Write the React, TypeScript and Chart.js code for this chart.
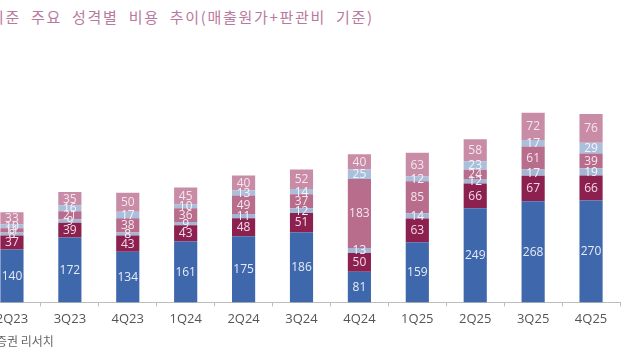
import React, { useEffect, useRef } from "react";
import { Chart, registerables } from "chart.js";

Chart.register(...registerables);

const categories = ["2Q23", "3Q23", "4Q23", "1Q24", "2Q24", "3Q24", "4Q24", "1Q25", "2Q25", "3Q25", "4Q25"];
const seriesBlue = [140, 172, 134, 161, 175, 186, 81, 159, 249, 268, 270];
const seriesMaroon = [37, 39, 43, 43, 48, 51, 50, 63, 66, 67, 66];
const seriesLightA = [8, 9, 8, 9, 11, 12, 13, 14, 12, 17, 19];
const seriesMauve = [11, 21, 38, 36, 49, 37, 183, 85, 24, 61, 39];
const seriesLightB = [10, 16, 17, 10, 13, 14, 25, 12, 23, 17, 29];
const seriesPink = [33, 35, 50, 45, 40, 52, 40, 63, 58, 72, 76];

const seriesColors = ["#3f67ab", "#8c2150", "#a3b6d3", "#b76d8b", "#aabfdc", "#c98ca6"];
const labelColors = ["#e6ecf7", "#f3dbe5", "#f2f5fb", "#f6e6ee", "#f2f5fb", "#f6e6ee"];

const labelPlugin = {
  id: "segLabels",
  afterDatasetsDraw(chart: any) {
    const ctx = chart.ctx;
    ctx.save();
    ctx.font = "12px 'Open Sans', sans-serif";
    ctx.textAlign = "center";
    ctx.textBaseline = "middle";
    chart.data.datasets.forEach((ds: any, di: number) => {
      const meta = chart.getDatasetMeta(di);
      meta.data.forEach((el: any, i: number) => {
        const v = ds.data[i];
        const cy = (el.y + el.base) / 2;
        ctx.fillStyle = labelColors[di];
        ctx.fillText(String(v), el.x, cy + 0.5);
      });
    });
    ctx.restore();
  },
};

export default function App() {
  const ref = useRef<HTMLCanvasElement | null>(null);
  useEffect(() => {
    if (!ref.current) return;
    const all = [seriesBlue, seriesMaroon, seriesLightA, seriesMauve, seriesLightB, seriesPink];
    const names = ["S1", "S2", "S3", "S4", "S5", "S6"];
    const chart = new Chart(ref.current, {
      type: "bar",
      data: {
        labels: categories,
        datasets: all.map((d, i) => ({
          label: names[i],
          data: d,
          backgroundColor: seriesColors[i],
          borderWidth: 0,
          categoryPercentage: 1,
          barPercentage: 0.4,
        })),
      },
      options: {
        responsive: false,
        animation: false,
        layout: { padding: { left: 3, right: 5, top: 38, bottom: 28 } },
        plugins: { legend: { display: false }, tooltip: { enabled: false } },
        scales: {
          x: {
            stacked: true,
            grid: { display: true, drawOnChartArea: false, drawTicks: true, tickLength: 4, offset: true, color: "#bdbdbd" },
            border: { display: true, color: "#bdbdbd" },
            ticks: { color: "#555", font: { size: 13, family: "'Open Sans', sans-serif" }, padding: 5 },
          },
          y: { stacked: true, display: false, min: 0, max: 700 },
        },
      },
      plugins: [labelPlugin],
    });
    return () => chart.destroy();
  }, []);
  return (
    <div style={{ position: "absolute", left: 0, top: 0, width: 640, height: 360, overflow: "hidden", background: "#fff" }}>
      <div
        style={{
          position: "absolute",
          left: -10,
          top: 6,
          whiteSpace: "nowrap",
          fontFamily: "'Noto Sans CJK KR', sans-serif",
          fontSize: 15,
          letterSpacing: 1.7,
          wordSpacing: 5,
          color: "#b77a9e",
        }}
      >
        기준 주요 성격별 비용 추이(매출원가+판관비 기준)
      </div>
      <canvas ref={ref} width={645} height={360} style={{ position: "absolute", left: -20, top: 0 }} />
      <div
        style={{
          position: "absolute",
          left: -4,
          top: 332,
          whiteSpace: "nowrap",
          fontFamily: "'Noto Sans CJK KR', sans-serif",
          fontSize: 12,
          color: "#666",
        }}
      >
        증권 리서치
      </div>
    </div>
  );
}
